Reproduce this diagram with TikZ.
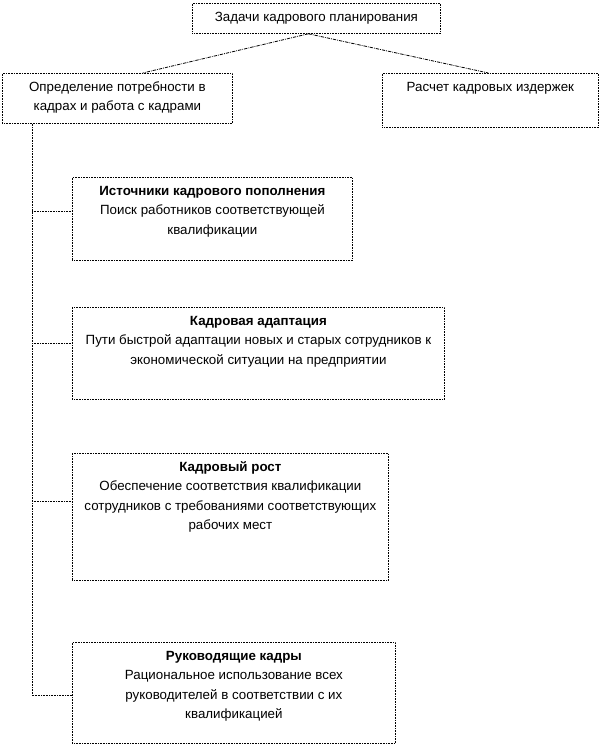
\documentclass[tikz,border=0pt]{standalone}
\usepackage{fontspec}
\setmainfont{Liberation Sans}
\newcommand{\boxtext}[3]{\parbox[t][#2][t]{#1}{\centering\rule{0pt}{13.5pt}#3}}

\begin{document}
\begin{tikzpicture}[x=0.75pt, y=-0.75pt,
    box/.style={draw, line width=0.6pt, dash pattern=on 0.6pt off 0.6pt,
        anchor=north west, inner sep=0pt, font=\fontsize{10}{14.6}\selectfont},
    branch/.style={draw, line width=0.6pt, dash pattern=on 2.5pt off 0.8pt on 0.6pt off 0.8pt},
    link/.style={draw, line width=0.6pt, dash pattern=on 0.6pt off 0.6pt}]
    \useasboundingbox (0, 0) rectangle (601, 746);

    % Top level
    \node [box] (task) at (192, 3) {\boxtext{186pt}{22.5pt}{Задачи кадрового планирования}};
    \node [box] (need) at (2, 73) {\boxtext{172.5pt}{37.5pt}{Определение потребности в\\ кадрах и работа с кадрами}};
    \node [box] (cost) at (382, 73) {\boxtext{162pt}{40.5pt}{Расчет кадровых издержек}};

    \draw [branch] ([xshift=-6pt]task.south) -- ([xshift=19pt]need.north);
    \draw [branch] ([xshift=-6pt]task.south) -- ([xshift=-1.5pt]cost.north);

    % Tasks of staff needs
    \node [box] (src) at (72, 177) {\boxtext{210pt}{62.25pt}{\textbf{Источники кадрового пополнения}\\
        Поиск работников соответствующей\\ квалификации}};
    \node [box] (adapt) at (72, 307) {\boxtext{279pt}{69pt}{\textbf{Кадровая адаптация}\\
        \mbox{Пути быстрой адаптации новых и старых сотрудников к}\\ экономической ситуации на предприятии}};
    \node [box] (growth) at (72, 453) {\boxtext{237pt}{95.25pt}{\textbf{Кадровый рост}\\
        Обеспечение соответствия квалификации\\ сотрудников с требованиями соответствующих\\ рабочих мест}};
    \node [box] (lead) at (72, 642) {\boxtext{242.25pt}{75.75pt}{\textbf{Руководящие кадры}\\
        Рациональное использование всех\\ руководителей в соответствии с их\\ квалификацией}};

    % Trunk line
    \coordinate (trunk) at (32, 0);
    \draw [link] (trunk |- need.south) |- ([yshift=-2pt]lead.west);
    \draw [link] (trunk |- src.west) ++(0, -8) -- ([yshift=6pt]src.west);
    \draw [link] (trunk |- adapt.west) ++(0, -10) -- ([yshift=7.5pt]adapt.west);
    \draw [link] (trunk |- growth.west) ++(0, -16) -- ([yshift=12pt]growth.west);
\end{tikzpicture}
\end{document}
